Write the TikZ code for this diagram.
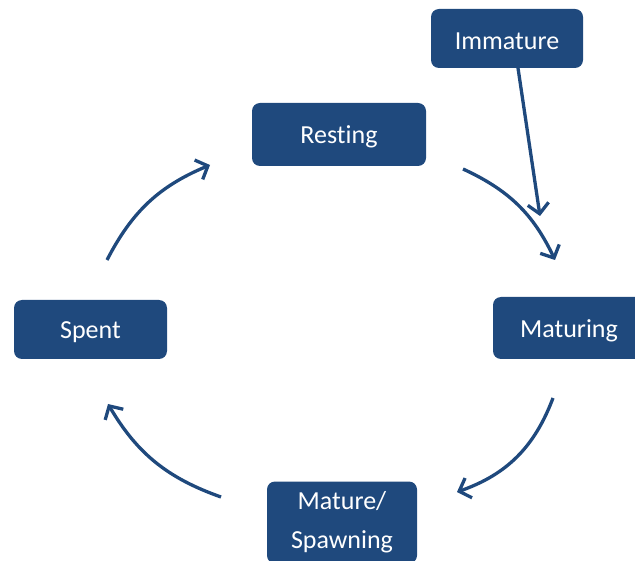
\documentclass[tikz,border=0pt]{standalone}
\usepackage{fontspec}
\setmainfont{Carlito}[Ligatures=NoCommon]
\usetikzlibrary{arrows.meta}
\definecolor{boxblue}{HTML}{1F497D}
\newcommand{\lowtxt}[1]{\raisebox{-2.5pt}[\height][\depth]{#1}}
\begin{document}
\begin{tikzpicture}[x=1pt,y=1pt,
 box/.style={fill=boxblue, rounded corners=8pt, text=white, font=\fontsize{26}{39}\selectfont, inner sep=0pt, align=center},
 flow/.style={draw=boxblue, line width=3.3pt, -{Straight Barb[length=10pt,width=21pt]}}]
\useasboundingbox (0,0) rectangle (635,-561);
\clip (0,0) rectangle (635,-561);
\node[box, minimum width=152pt, minimum height=59pt] (imm) at (507,-38.5) {\lowtxt{Immature}};
\node[box, minimum width=174pt, minimum height=63pt] (rest) at (339,-134.5) {\lowtxt{Resting}};
\node[box, minimum width=153pt, minimum height=59pt] (spent) at (90.5,-329.5) {\lowtxt{Spent}};
\node[box, minimum width=152pt, minimum height=62pt] (matu) at (569,-328) {\lowtxt{Maturing}};
\node[box, minimum width=150pt, minimum height=82pt] (mat) at (342,-522.5) {Mature/\\Spawning};
\coordinate (a1s) at (463,-169); \coordinate (a1e) at (555,-260);
\coordinate (a2s) at (518,-68); \coordinate (a2e) at (540,-216);
\coordinate (a3s) at (553,-398); \coordinate (a3e) at (457,-492);
\coordinate (a4s) at (221,-497); \coordinate (a4e) at (108,-404);
\coordinate (a5s) at (107,-260); \coordinate (a5e) at (210,-165);
\draw[flow] (a1s) to[bend left=20] (a1e);
\draw[flow] (a2s) -- (a2e);
\draw[flow] (a3s) to[bend left=25] (a3e);
\draw[flow] (a4s) to[bend left=20] (a4e);
\draw[flow] (a5s) to[bend left=20] (a5e);
\end{tikzpicture}
\end{document}
